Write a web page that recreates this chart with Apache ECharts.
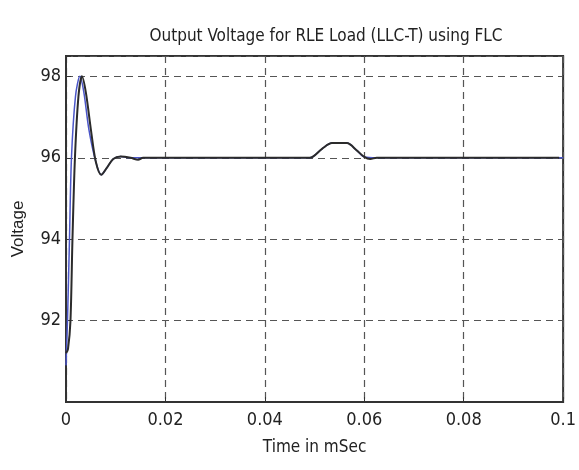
<!DOCTYPE html>
<html>
<head>
<meta charset="utf-8">
<script src="https://cdn.jsdelivr.net/npm/echarts@6/dist/echarts.min.js"></script>
<style>
  html, body { margin: 0; padding: 0; background: #fff; }
  #chart { width: 579px; height: 470px; }
</style>
</head>
<body>
<div id="chart"></div>
<script>
// Output voltage response of the RLE load (LLC-T converter) under the fuzzy controller
const timeTicks = [0, 0.02, 0.04, 0.06, 0.08, 0.1];
const voltTicks = [92, 94, 96, 98];

// Controlled output (black trace): time in mSec, voltage
const outTime = [0, 0.0004, 0.0009, 0.0013, 0.0018, 0.0025, 0.0032, 0.0040, 0.0050, 0.0060,
  0.0071, 0.0082, 0.0095, 0.0110, 0.0130, 0.0145, 0.0155, 0.0490, 0.0515, 0.0535,
  0.0565, 0.0585, 0.0600, 0.0612, 0.0625, 0.0992];
const outVolt = [91.2, 91.3, 92.0, 94.0, 96.0, 97.5, 98.0, 97.6, 96.7, 95.9,
  95.58, 95.75, 95.97, 96.03, 96.0, 95.95, 96.0, 96.0, 96.22, 96.36,
  96.36, 96.18, 96.02, 95.97, 96.0, 96.0];

// Second trace (blue) leading slightly during start-up
const refTime = [0, 0.0003, 0.0007, 0.0011, 0.0019, 0.0028, 0.0036, 0.0046, 0.0060, 0.0071,
  0.0082, 0.0095, 0.0110, 0.0130, 0.0490, 0.0515, 0.0535, 0.0565, 0.0585, 0.0600, 0.0625, 0.1];
const refVolt = [90.9, 92.0, 94.0, 96.0, 97.5, 98.0, 97.6, 96.7, 95.9, 95.58,
  95.75, 95.97, 96.03, 96.0, 96.0, 96.22, 96.36, 96.36, 96.18, 96.02, 96.0, 96.0];

const zip = (a, b) => a.map((v, i) => [v, b[i]]);

const chart = echarts.init(document.getElementById('chart'), null, { renderer: 'canvas' });
const narrow = '"DejaVu Sans Condensed", "Liberation Sans Narrow", sans-serif';

chart.setOption({
  backgroundColor: '#ffffff',
  animation: false,
  title: {
    text: 'Output Voltage for RLE Load (LLC-T) using FLC',
    left: 321,
    top: 23,
    textAlign: 'center',
    textStyle: { fontFamily: narrow, fontSize: 17, fontWeight: 'normal', color: '#222' }
  },
  grid: {
    left: 66, right: 8, top: 56, bottom: 68,
    show: true, borderColor: '#333', borderWidth: 2, backgroundColor: '#fff'
  },
  xAxis: {
    type: 'value',
    min: 0, max: 0.1, interval: 0.02,
    name: 'Time in mSec',
    nameLocation: 'middle',
    nameGap: 37,
    nameTextStyle: { fontFamily: narrow, fontSize: 17, color: '#222' },
    axisLine: { show: true, lineStyle: { color: '#333', width: 2 } },
    axisTick: { show: true, inside: true, length: 5, lineStyle: { color: '#333' } },
    axisLabel: {
      fontFamily: narrow, fontSize: 18, color: '#222', margin: 9,
      formatter: v => timeTicks.some(t => Math.abs(t - v) < 1e-9) ? String(+v.toFixed(2)) : ''
    },
    splitLine: { show: true, lineStyle: { color: '#555', type: [7, 5], width: 1.2 } }
  },
  yAxis: {
    type: 'value',
    min: 90, max: 98.5, interval: 2,
    name: 'Voltage',
    nameLocation: 'middle',
    nameGap: 39,
    nameTextStyle: { fontFamily: '"Liberation Sans", Arial, sans-serif', fontSize: 17, color: '#222' },
    axisLine: { show: true, lineStyle: { color: '#333', width: 2 } },
    axisTick: { show: true, inside: true, length: 5, lineStyle: { color: '#333' } },
    axisLabel: {
      fontFamily: narrow, fontSize: 18, color: '#222', margin: 5,
      formatter: v => voltTicks.includes(Math.round(v * 1000) / 1000) ? String(v) : ''
    },
    splitLine: { show: true, lineStyle: { color: '#555', type: [7, 5], width: 1.2 } }
  },
  series: [
    {
      type: 'line',
      data: zip(refTime, refVolt),
      smooth: 0.3,
      showSymbol: false,
      lineStyle: { color: '#4a55c8', width: 1.5 },
      z: 2
    },
    {
      type: 'line',
      data: zip(outTime, outVolt),
      smooth: 0.3,
      showSymbol: false,
      lineStyle: { color: '#2b2b2b', width: 2 },
      z: 3
    }
  ]
});
</script>
</body>
</html>
